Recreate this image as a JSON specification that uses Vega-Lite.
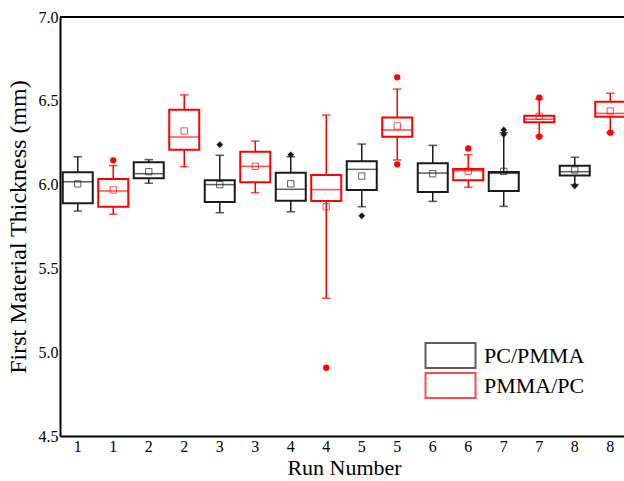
{
  "$schema": "https://vega.github.io/schema/vega-lite/v6.json",
  "width": 564,
  "height": 419,
  "autosize": {"type": "none"},
  "padding": {"left": 60, "top": 17, "right": 0, "bottom": 45},
  "background": "white",
  "config": {
    "view": {"stroke": null},
    "font": "Liberation Serif",
    "legend": {"labelFont": "Liberation Serif", "labelFontSize": 22, "labelColor": "#000"}
  },
  "datasets": {
    "boxes": [
      {"key": "1a", "grp": "PC/PMMA", "lo": 5.842, "q1": 5.888, "med": 6.017, "q3": 6.073, "hi": 6.166, "mean": 6.004},
      {"key": "1b", "grp": "PMMA/PC", "lo": 5.823, "q1": 5.868, "med": 5.962, "q3": 6.033, "hi": 6.113, "mean": 5.968},
      {"key": "2a", "grp": "PC/PMMA", "lo": 6.008, "q1": 6.038, "med": 6.065, "q3": 6.133, "hi": 6.149, "mean": 6.077},
      {"key": "2b", "grp": "PMMA/PC", "lo": 6.107, "q1": 6.208, "med": 6.284, "q3": 6.447, "hi": 6.535, "mean": 6.32},
      {"key": "3a", "grp": "PC/PMMA", "lo": 5.832, "q1": 5.896, "med": 6.0, "q3": 6.026, "hi": 6.175, "mean": 6.0},
      {"key": "3b", "grp": "PMMA/PC", "lo": 5.952, "q1": 6.014, "med": 6.109, "q3": 6.196, "hi": 6.26, "mean": 6.109},
      {"key": "4a", "grp": "PC/PMMA", "lo": 5.838, "q1": 5.904, "med": 5.972, "q3": 6.071, "hi": 6.166, "mean": 6.005},
      {"key": "4b", "grp": "PMMA/PC", "lo": 5.322, "q1": 5.902, "med": 5.97, "q3": 6.057, "hi": 6.415, "mean": 5.868},
      {"key": "5a", "grp": "PC/PMMA", "lo": 5.868, "q1": 5.968, "med": 6.091, "q3": 6.139, "hi": 6.242, "mean": 6.051},
      {"key": "5b", "grp": "PMMA/PC", "lo": 6.147, "q1": 6.286, "med": 6.326, "q3": 6.401, "hi": 6.57, "mean": 6.35},
      {"key": "6a", "grp": "PC/PMMA", "lo": 5.9, "q1": 5.956, "med": 6.069, "q3": 6.127, "hi": 6.234, "mean": 6.065},
      {"key": "6b", "grp": "PMMA/PC", "lo": 5.984, "q1": 6.026, "med": 6.083, "q3": 6.093, "hi": 6.178, "mean": 6.08},
      {"key": "7a", "grp": "PC/PMMA", "lo": 5.87, "q1": 5.962, "med": 6.067, "q3": 6.075, "hi": 6.31, "mean": 6.079},
      {"key": "7b", "grp": "PMMA/PC", "lo": 6.29, "q1": 6.372, "med": 6.39, "q3": 6.411, "hi": 6.51, "mean": 6.407},
      {"key": "8a", "grp": "PC/PMMA", "lo": 6.0, "q1": 6.055, "med": 6.077, "q3": 6.113, "hi": 6.163, "mean": 6.087},
      {"key": "8b", "grp": "PMMA/PC", "lo": 6.31, "q1": 6.405, "med": 6.425, "q3": 6.495, "hi": 6.545, "mean": 6.439}
    ],
    "outliers": [
      {"key": "1b", "grp": "PMMA/PC", "v": 6.145},
      {"key": "3a", "grp": "PC/PMMA", "v": 6.238},
      {"key": "4a", "grp": "PC/PMMA", "v": 6.178},
      {"key": "4b", "grp": "PMMA/PC", "v": 4.907},
      {"key": "5a", "grp": "PC/PMMA", "v": 5.814},
      {"key": "5b", "grp": "PMMA/PC", "v": 6.64},
      {"key": "5b", "grp": "PMMA/PC", "v": 6.121},
      {"key": "6b", "grp": "PMMA/PC", "v": 6.216},
      {"key": "7a", "grp": "PC/PMMA", "v": 6.3},
      {"key": "7a", "grp": "PC/PMMA", "v": 6.326},
      {"key": "7b", "grp": "PMMA/PC", "v": 6.518},
      {"key": "7b", "grp": "PMMA/PC", "v": 6.286},
      {"key": "8a", "grp": "PC/PMMA", "v": 5.993},
      {"key": "8b", "grp": "PMMA/PC", "v": 6.31}
    ]
  },
  "encoding": {
    "x": {
      "field": "key", "type": "nominal", "sort": null,
      "scale": {"domain": ["1a","1b","2a","2b","3a","3b","4a","4b","5a","5b","6a","6b","7a","7b","8a","8b"], "range": [0, 568], "paddingInner": 0, "paddingOuter": 0},
      "axis": {"title": "Run Number", "labelExpr": "substring(datum.label, 0, 1)", "labelAngle": 0, "labelFont": "Liberation Serif", "labelFontSize": 16, "labelColor": "#000", "labelPadding": 2, "titleFont": "Liberation Serif", "titleFontWeight": "normal", "titleFontSize": 22, "titleColor": "#000", "titlePadding": 3, "domainColor": "#000", "domainWidth": 2, "ticks": false, "grid": false}
    }
  },
  "layer": [
    {
      "data": {"name": "boxes"},
      "mark": {"type": "rule", "strokeWidth": 1.5},
      "encoding": {
        "y": {"field": "lo", "type": "quantitative", "scale": {"domain": [4.5, 7.0], "nice": false, "zero": false},
          "axis": {"title": "First Material Thickness (mm)", "values": [4.5, 5.0, 5.5, 6.0, 6.5, 7.0], "format": ".1f", "labelFont": "Liberation Serif", "labelFontSize": 16, "labelColor": "#000", "labelPadding": 2, "titleFont": "Liberation Serif", "titleFontWeight": "normal", "titleFontSize": 24, "titleColor": "#000", "titlePadding": 8, "domainColor": "#000", "domainWidth": 2, "ticks": false, "grid": false}},
        "y2": {"field": "hi"},
        "stroke": {"field": "grp", "type": "nominal", "scale": {"domain": ["PC/PMMA", "PMMA/PC"], "range": ["#1a1a1a", "#ff0000"]},
          "legend": {"title": null, "orient": "none", "legendX": 377, "legendY": 325, "symbolType": "M-2,-1H2V1H-2Z", "symbolSize": 625, "symbolStrokeWidth": 2, "symbolFillColor": "white", "labelOffset": 20, "rowPadding": -4}}
      }
    },
    {
      "data": {"name": "boxes"},
      "mark": {"type": "tick", "size": 7, "thickness": 0.01, "filled": false, "strokeWidth": 1.5},
      "encoding": {
        "y": {"field": "lo", "type": "quantitative"},
        "stroke": {"field": "grp", "type": "nominal"}
      }
    },
    {
      "data": {"name": "boxes"},
      "mark": {"type": "tick", "size": 7, "thickness": 0.01, "filled": false, "strokeWidth": 1.5},
      "encoding": {
        "y": {"field": "hi", "type": "quantitative"},
        "stroke": {"field": "grp", "type": "nominal"}
      }
    },
    {
      "data": {"name": "boxes"},
      "mark": {"type": "bar", "size": 30, "fill": "white", "strokeWidth": 2},
      "encoding": {
        "y": {"field": "q1", "type": "quantitative"},
        "y2": {"field": "q3"},
        "stroke": {"field": "grp", "type": "nominal"}
      }
    },
    {
      "data": {"name": "boxes"},
      "mark": {"type": "tick", "size": 30, "thickness": 0.01, "filled": false, "strokeWidth": 1.5},
      "encoding": {
        "y": {"field": "med", "type": "quantitative"},
        "stroke": {"field": "grp", "type": "nominal"}
      }
    },
    {
      "data": {"name": "boxes"},
      "mark": {"type": "point", "shape": "square", "filled": false, "size": 40, "strokeWidth": 1, "opacity": 0.7},
      "encoding": {
        "y": {"field": "mean", "type": "quantitative"},
        "stroke": {"field": "grp", "type": "nominal"}
      }
    },
    {
      "data": {"name": "outliers"},
      "transform": [{"filter": {"field": "grp", "equal": "PC/PMMA"}}],
      "mark": {"type": "point", "shape": "diamond", "filled": true, "size": 45, "opacity": 1, "color": "#1a1a1a"},
      "encoding": {
        "y": {"field": "v", "type": "quantitative"}
      }
    },
    {
      "data": {"name": "outliers"},
      "transform": [{"filter": {"field": "grp", "equal": "PMMA/PC"}}],
      "mark": {"type": "point", "shape": "circle", "filled": true, "size": 40, "opacity": 1, "color": "#ff0000"},
      "encoding": {
        "y": {"field": "v", "type": "quantitative"}
      }
    },
    {
      "data": {"values": [{}]},
      "mark": {"type": "rule", "strokeWidth": 2, "color": "black"},
      "encoding": {"y": {"datum": 7.0, "type": "quantitative"}, "x": {"value": 0}, "x2": {"value": 568}}
    }
  ]
}
